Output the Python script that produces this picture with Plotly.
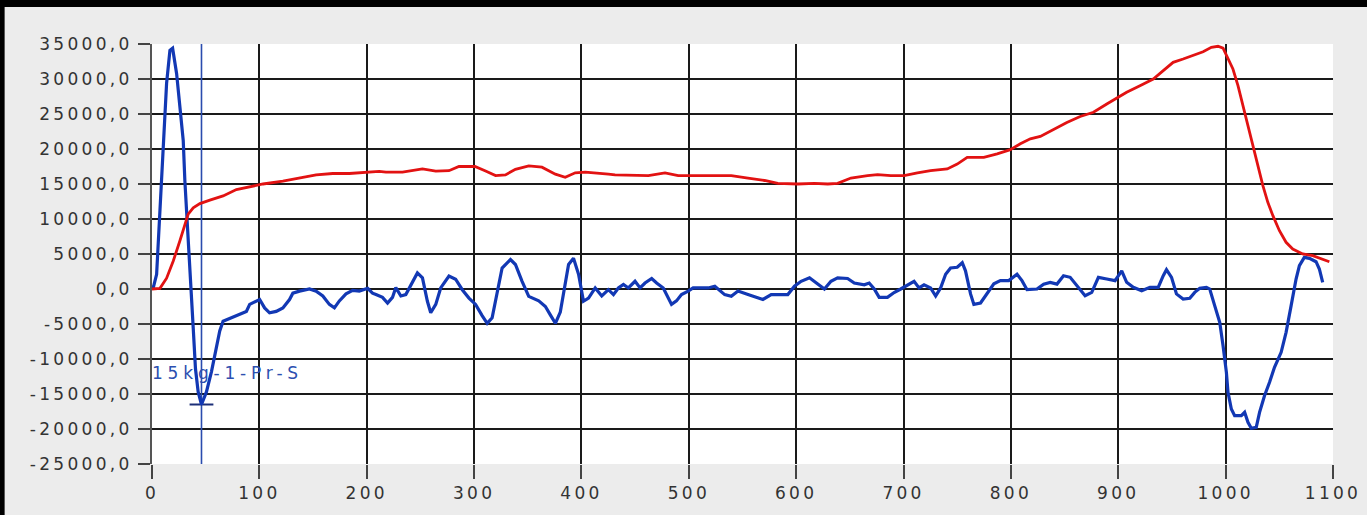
import plotly.graph_objects as go

# ---- data ----
red_x = [0, 1.2, 7.4, 13.6, 19.8, 26, 30.6, 33.7, 38.4, 44.6, 53.9, 66.2, 78.6, 91, 103.4, 121.9,
         137.4, 152.9, 168.3, 183.8, 211.6, 217.9, 233.3, 251.9, 264.3, 276.6, 285.9, 300.8, 310.7,
         320, 329.2, 338.5, 350.9, 363.2, 375.7, 384.9, 394.2, 403.5, 425.1, 431.3, 462.3, 477.8,
         490.1, 508.7, 539.6, 555.1, 570.6, 582.9, 601.5, 617, 629.4, 638.6, 651, 666.5, 675.8,
         688.1, 700.5, 712.9, 725.2, 740.7, 750, 759.3, 774.8, 787.2, 799.5, 808.8, 818.1, 827.4,
         839.7, 852.1, 864.5, 876.9, 889.3, 899.2, 907.8, 920.2, 932.6, 941.9, 951.1, 960.4, 969.7,
         979, 986.7, 992.9, 997.6, 1002.2, 1006.8, 1011.5, 1016.1, 1020.8, 1025.4, 1030, 1034.7,
         1039.3, 1044, 1050.1, 1056.3, 1062.5, 1071.8, 1081.1, 1090.4, 1096.6]
red_y = [0, 0, 100, 1550, 4000, 6900, 9300, 10700, 11600, 12200, 12700, 13300, 14200, 14600, 15000,
         15400, 15800, 16300, 16500, 16500, 16800, 16700, 16700, 17150, 16850, 16900, 17500, 17500,
         16850, 16200, 16300, 17100, 17600, 17400, 16400, 15950, 16600, 16700, 16400, 16300, 16200,
         16600, 16200, 16200, 16200, 15850, 15500, 15100, 15000, 15100, 15000, 15100, 15850, 16200,
         16350, 16200, 16200, 16600, 16900, 17150, 17850, 18800, 18800, 19300, 19900, 20750, 21450,
         21800, 22850, 23800, 24650, 25250, 26430, 27380, 28100, 29050, 30000, 31190, 32380, 32860,
         33330, 33900, 34520, 34670, 34400, 32860, 31430, 29050, 26190, 23330, 20480, 17620, 14760,
         12380, 10480, 8330, 6670, 5710, 5000, 4760, 4290, 3900]

blue_x = [0, 1.2, 4.3, 7.4, 10.5, 13.6, 16.7, 19.2, 22.9, 26, 29.1, 30.6, 32.8, 35.3, 36.8, 38.4,
          40.5, 43, 46.1, 50.7, 55.4, 60, 63.1, 66.2, 72.4, 81.7, 87.9, 91, 97.2, 100.3, 104.9,
          109.5, 115.7, 121.9, 128.1, 131.2, 137.4, 146.7, 152.9, 159.1, 165.2, 169.9, 174.5, 180.7,
          186.9, 193.1, 200.9, 205.4, 208.6, 214.7, 219.4, 224, 227.1, 231.8, 236.4, 241.1, 247.2,
          251.9, 256.5, 259.6, 264.3, 268.9, 276.6, 282.8, 289, 295.2, 301.4, 307.5, 312.2, 316.8,
          321.5, 326.1, 333.9, 338.5, 344.7, 350.9, 360.2, 366.4, 371, 375.7, 380.3, 384.9, 388,
          392.6, 397.3, 401.9, 406.6, 412.8, 418.9, 425.1, 429.8, 434.4, 439.1, 443.7, 449.9, 454.6,
          459.2, 465.4, 470, 476.2, 480.8, 483.9, 488.5, 493.2, 499.4, 504, 511.8, 518, 524.2, 533.4,
          539.6, 545.8, 555.1, 564.4, 569, 576.7, 584.5, 592.2, 598.4, 604.6, 612.4, 620.1, 626.3,
          632.4, 638.6, 647.9, 654.1, 663.4, 668, 672.7, 677.3, 685, 691.2, 697.4, 703.6, 709.8,
          714.4, 719.1, 725.2, 729.9, 734.5, 739.2, 743.8, 750, 754.7, 757.7, 762.4, 765.5, 771.7,
          777.9, 784.1, 790.2, 798, 805.7, 810.3, 815, 824.3, 830.5, 836.6, 842.9, 849, 855.2,
          861.4, 869.1, 875.3, 881.5, 889.3, 897, 903.2, 907.8, 914, 921.8, 929.5, 937.2, 941.9,
          944.9, 949.6, 954.2, 960.4, 966.6, 971.2, 975.9, 982.1, 985.2, 989.8, 994.5, 997.6,
          1000.7, 1002.2, 1005.3, 1008.4, 1014.6, 1017.7, 1020.8, 1023.9, 1028.5, 1031.6, 1036.2,
          1040.9, 1045.5, 1051.7, 1056.3, 1061, 1065.6, 1068.7, 1073.3, 1078, 1084.2, 1087.3, 1090.4]
blue_y = [500, 200, 2100, 11600, 21200, 29400, 34100, 34400, 30800, 26000, 21200, 15500, 9700, 4400,
          0, -5600, -11400, -14700, -16500, -14700, -11800, -8500, -6000, -4600, -4200, -3700, -3200,
          -2200, -1700, -1500, -2700, -3400, -3200, -2700, -1500, -600, -300, 0, -300, -1000, -2200,
          -2700, -1700, -700, -200, -300, 100, -600, -800, -1200, -2000, -1200, 200, -1000, -800, 650,
          2300, 1600, -1750, -3400, -2200, 150, 1850, 1400, -100, -1300, -2200, -3800, -4900, -4100,
          -300, 3000, 4200, 3500, 1100, -1050, -1700, -2500, -3700, -4900, -3300, 1100, 3500, 4400,
          2100, -1750, -1300, 150, -1000, -100, -800, 150, 650, 150, 1100, 150, 850, 1500, 850, 150,
          -1300, -2200, -1700, -800, -300, 150, 150, 150, 400, -800, -1050, -300, -800, -1250, -1500,
          -800, -800, -800, 400, 1100, 1600, 650, 0, 1100, 1600, 1500, 850, 600, 850, 0, -1200, -1200,
          -500, 0, 500, 1100, 150, 600, 150, -1000, 150, 2100, 3000, 3100, 3750, 2600, -700, -2200,
          -2000, -700, 750, 1200, 1200, 2100, 1200, -100, 0, 700, 950, 700, 1900, 1670, 500, -950,
          -480, 1670, 1430, 1190, 2600, 950, 240, -240, 240, 240, 1900, 2760, 1670, -700, -1430,
          -1330, -480, 100, 240, 0, -2380, -4760, -8100, -11900, -14760, -17140, -18100, -18100,
          -17620, -19050, -19900, -19760, -17620, -15240, -13330, -11190, -9050, -6190, -2380, 1430,
          3330, 4520, 4380, 3900, 2860, 950]

x_ticks = list(range(0, 1101, 100))
y_ticks = list(range(-25000, 35001, 5000))
y_tick_text = [f"{v:.1f}".replace(".", ",") for v in y_ticks]
x_tick_text = [str(v) for v in x_ticks]

cursor_label = "15kg-1-Pr-S"
cursor_label_y = -12200

# cursor at the first local minimum of the blue series
i_min = min(range(0, 40), key=lambda i: blue_y[i])
cursor_x = blue_x[i_min]
cursor_y = blue_y[i_min]

FONT = "DejaVu Sans"
BLUE = "#1238b4"
RED = "#e21212"

fig = go.Figure()

fig.add_trace(go.Scatter(x=[x_ticks[0]], y=[cursor_label_y], mode="text", text=[cursor_label],
                         textposition="middle right",
                         textfont=dict(family=FONT, size=17, color="#2c4fb0"),
                         showlegend=False, hoverinfo="skip"))
fig.add_trace(go.Scatter(x=[cursor_x, cursor_x], y=[y_ticks[0], y_ticks[-1]], mode="lines",
                         line=dict(color="#2a4cae", width=1.6), showlegend=False, hoverinfo="skip"))
fig.add_trace(go.Scatter(x=[cursor_x], y=[cursor_y], mode="markers",
                         marker=dict(symbol="line-ew-open", size=17, color="#1c2f78",
                                     line=dict(color="#1c2f78", width=2)),
                         showlegend=False, hoverinfo="skip"))
fig.add_trace(go.Scatter(x=blue_x, y=blue_y, mode="lines",
                         line=dict(color=BLUE, width=3.2), showlegend=False))
fig.add_trace(go.Scatter(x=red_x, y=red_y, mode="lines",
                         line=dict(color=RED, width=2.8), showlegend=False))

fig.update_layout(
    width=1367, height=515,
    margin=dict(l=152, r=29, t=44, b=51),
    paper_bgcolor="#ececec",
    plot_bgcolor="#ffffff",
    font=dict(family=FONT, size=17, color="#333333"),
    showlegend=False,
    xaxis=dict(range=[x_ticks[0], x_ticks[-1]], tickvals=x_ticks, ticktext=x_tick_text,
               showgrid=False, zeroline=False, showline=False,
               ticks="outside", ticklen=14, tickwidth=1.5, tickcolor="#444444",
               minor=dict(tickvals=x_ticks[1:-1], showgrid=True, gridcolor="#1a1a1a",
                          gridwidth=1.6, ticks=""),
               tickfont=dict(family=FONT, size=17, color="#333333")),
    yaxis=dict(range=[y_ticks[0], y_ticks[-1]], tickvals=y_ticks, ticktext=y_tick_text,
               showgrid=False, zeroline=False, showline=True, linecolor="#555555", linewidth=2,
               ticks="outside", ticklen=12, tickwidth=1.5, tickcolor="#444444",
               ticklabelstandoff=2,
               minor=dict(tickvals=y_ticks[1:], showgrid=True, gridcolor="#1a1a1a",
                          gridwidth=1.6, ticks=""),
               tickfont=dict(family=FONT, size=17, color="#333333")),
    shapes=[
        dict(type="rect", xref="paper", yref="paper", x0=-0.2, x1=1.2,
             y0=(420 + 44 - 7) / 420, y1=1.3, fillcolor="#000000", line=dict(width=0), layer="above"),
        dict(type="rect", xref="paper", yref="paper", x0=-0.2, x1=(4 - 152) / 1186,
             y0=-0.3, y1=1.3, fillcolor="#000000", line=dict(width=0), layer="above"),
    ],
)

post = ("var s=document.createElement('style');"
        "s.innerHTML='body{margin:0;padding:0;overflow:hidden}"
        ".xtick text,.ytick text{letter-spacing:3.3px}"
        ".textpoint text{letter-spacing:4.8px}';"
        "document.head.appendChild(s);")
fig.write_html("out.html", post_script=post, config={"displayModeBar": False})
